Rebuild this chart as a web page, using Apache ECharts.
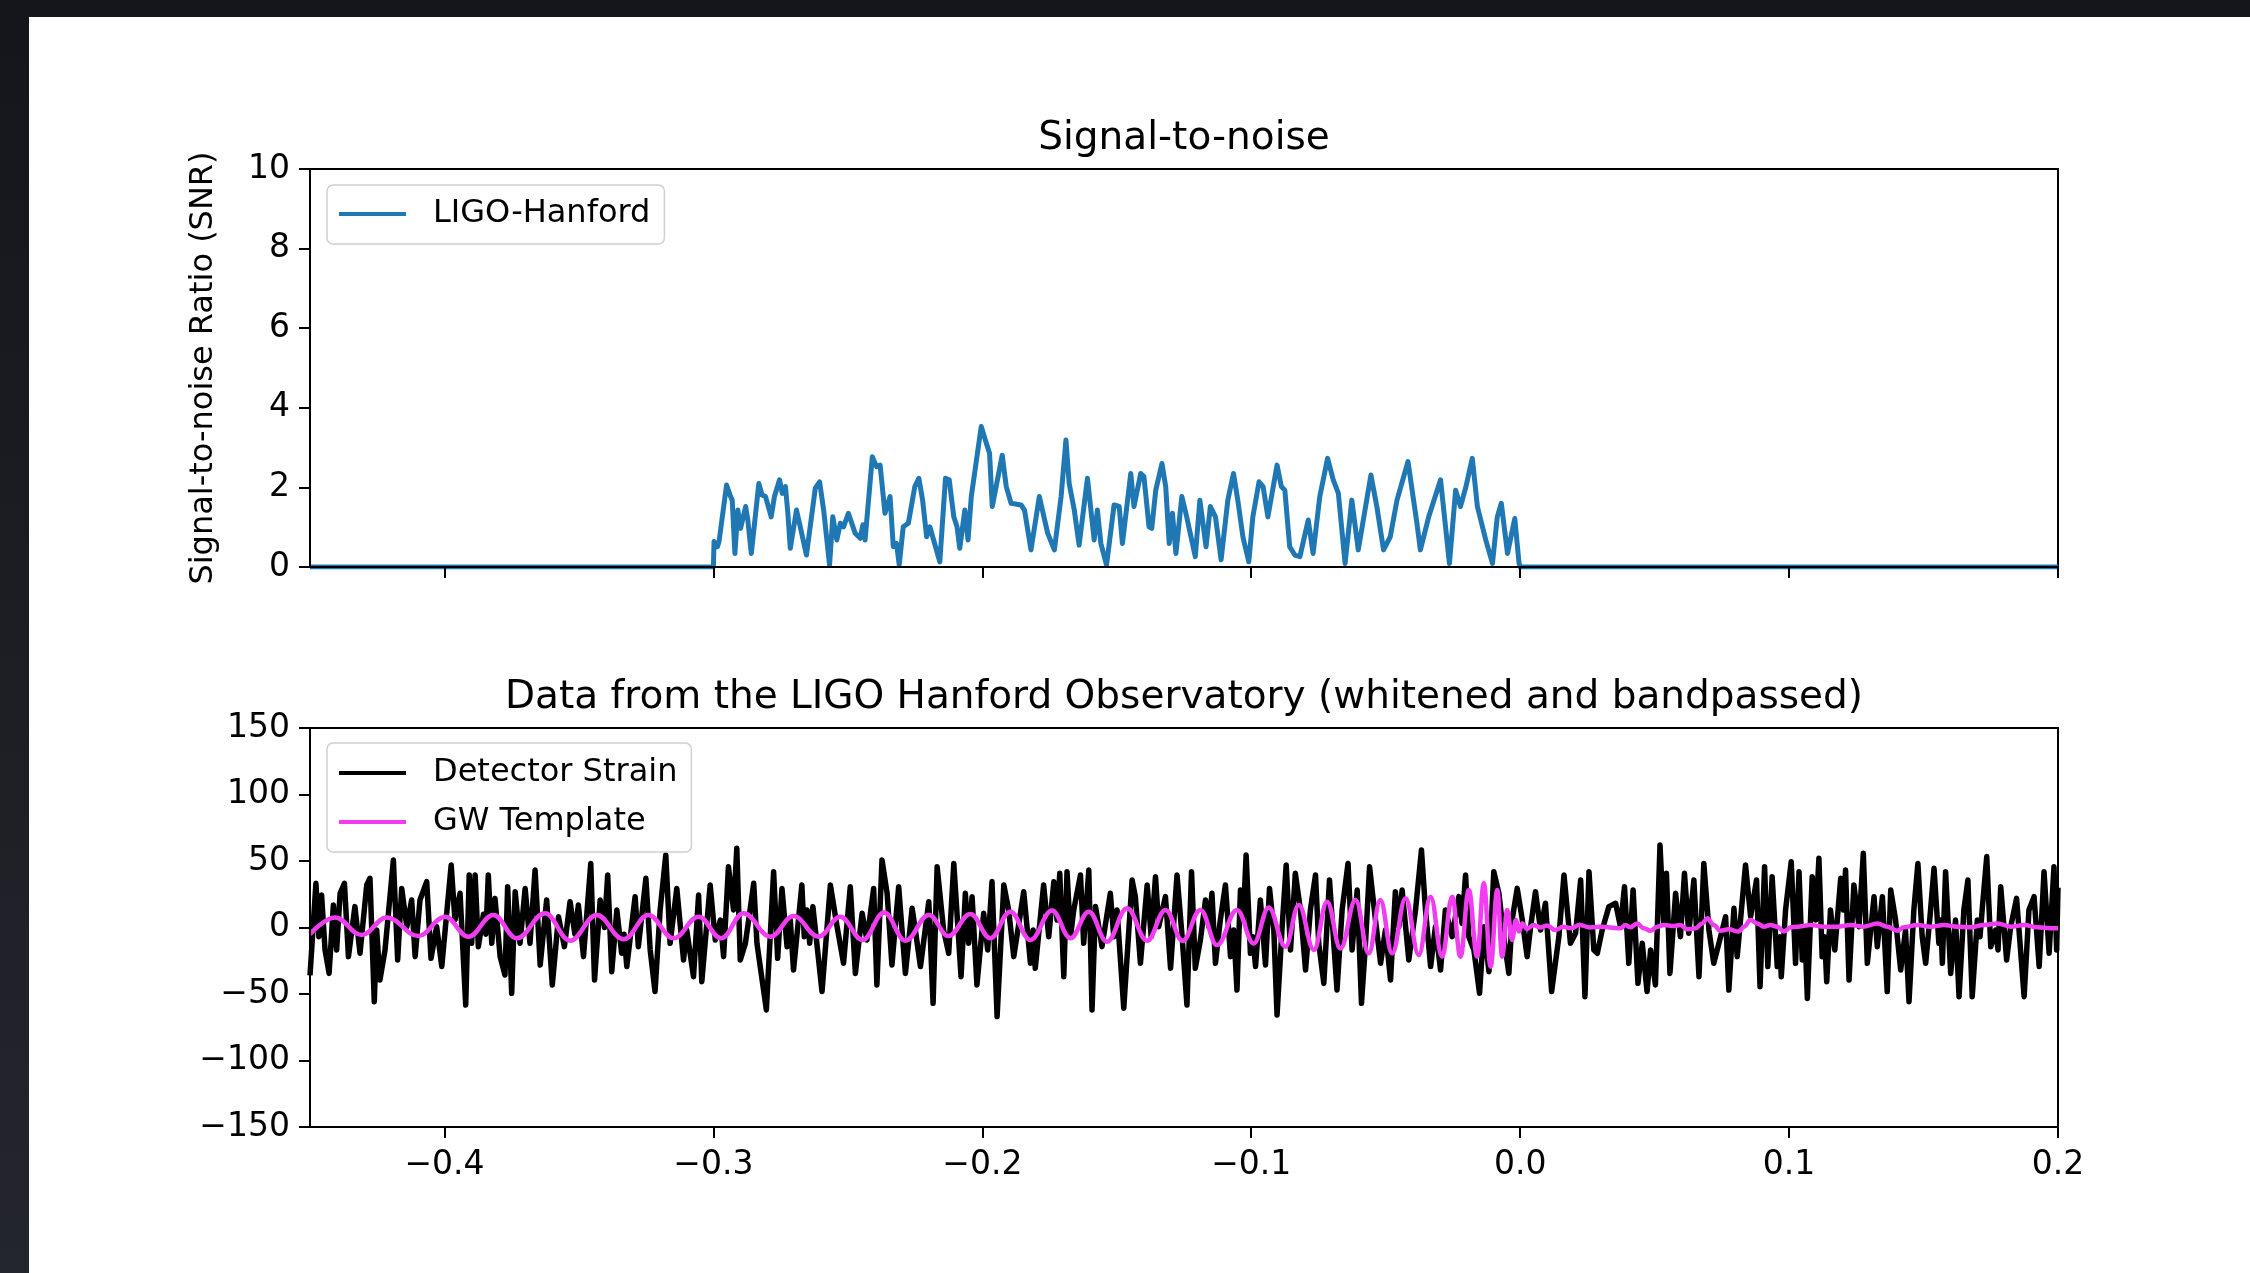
<!DOCTYPE html>
<html>
<head>
<meta charset="utf-8">
<script src="https://cdn.jsdelivr.net/npm/echarts@6/dist/echarts.min.js"></script>
<style>
html,body{margin:0;padding:0;background:#15171c;}
#c{width:2250px;height:1273px;}
</style>
</head>
<body>
<div id="c"></div>
<script>
// ---- data (time in ms, value) ----
const snrData = [[-450,0],[-300,0],[-299.75,0.64],[-298.5,0.51],[-297.9,0.64],[-295.1,2.06],[-293.6,1.77],[-293.0,1.68],[-292.0,0.34],[-290.9,1.43],[-289.9,0.97],[-288.0,1.52],[-287.2,1.18],[-285.9,0.34],[-283.1,2.10],[-281.9,1.81],[-280.6,1.77],[-278.5,1.26],[-277.3,1.77],[-275.4,2.19],[-274.4,1.85],[-273.2,2.02],[-272.3,1.35],[-271.4,0.47],[-269.1,1.43],[-267.7,1.01],[-265.4,0.30],[-262.1,1.98],[-260.5,2.14],[-259.0,1.43],[-256.8,0.05],[-255.6,1.26],[-254.1,0.68],[-252.8,1.10],[-251.6,1.01],[-249.8,1.35],[-247.3,0.85],[-245.4,0.72],[-244.4,1.06],[-243.6,0.68],[-240.9,2.77],[-239.3,2.52],[-238.0,2.56],[-236.2,1.35],[-234.3,1.77],[-233.1,0.51],[-231.9,0.59],[-230.9,0.05],[-229.4,1.01],[-227.5,1.10],[-225.1,2.02],[-223.6,2.23],[-222.2,1.68],[-220.7,0.76],[-219.5,1.01],[-215.8,0.13],[-213.7,2.23],[-212.3,2.19],[-210.6,1.26],[-209.4,1.01],[-208.4,0.47],[-206.5,1.43],[-205.3,0.68],[-204.1,1.77],[-200.4,3.53],[-198.5,3.11],[-197.3,2.86],[-196.3,1.52],[-192.6,2.81],[-191.1,2.02],[-189.3,1.60],[-185.6,1.56],[-184.3,1.43],[-181.9,0.43],[-178.8,1.77],[-175.7,0.85],[-173.2,0.43],[-170.7,1.77],[-168.9,3.19],[-167.7,2.10],[-165.8,1.43],[-164.0,0.55],[-160.9,2.23],[-158.4,0.68],[-157.2,1.43],[-155.9,0.59],[-153.8,0.05],[-151.0,1.56],[-149.1,1.52],[-147.9,0.59],[-144.8,2.35],[-143.6,1.52],[-141.1,2.35],[-139.9,2.27],[-138.0,1.01],[-137.0,0.97],[-135.5,1.93],[-133.2,2.60],[-131.8,2.02],[-130.5,0.59],[-129.3,1.35],[-128.0,0.34],[-125.8,1.77],[-124.3,1.35],[-120.8,0.26],[-119.1,1.68],[-116.8,0.51],[-115.2,1.52],[-113.3,1.26],[-111.2,0.18],[-108.7,1.68],[-106.6,2.35],[-105.0,1.68],[-103.1,0.76],[-100.9,0.13],[-99.4,1.26],[-97.1,2.14],[-95.6,2.02],[-93.8,1.26],[-90.4,2.56],[-88.8,2.02],[-87.5,1.93],[-85.7,0.51],[-83.8,0.30],[-81.9,0.26],[-78.8,1.18],[-77.0,0.34],[-74.5,1.77],[-71.6,2.73],[-69.5,2.19],[-67.6,1.85],[-65.1,0.09],[-62.6,1.68],[-60.2,0.43],[-55.5,2.31],[-53.3,1.52],[-50.8,0.43],[-48.3,0.76],[-45.8,1.68],[-41.7,2.65],[-38.4,1.10],[-37.1,0.43],[-34.0,1.26],[-29.6,2.19],[-26.3,0.09],[-24.0,1.93],[-22.2,1.52],[-20.3,1.98],[-17.8,2.73],[-15.9,1.52],[-12.8,0.68],[-10.3,0.09],[-8.5,1.26],[-7.0,1.60],[-4.7,0.34],[-2.0,1.22],[-0.4,0.09],[0,0],[200,0]];

const strainData = [[-450.0,-36],[-447.8,33.2],[-446.7,-6.9],[-445.7,24.4],[-444.4,-16.9],[-442.9,-34.5],[-441.3,16.9],[-440.1,-16.9],[-438.8,25.7],[-437.2,33.2],[-435.7,-21.9],[-433.3,15.7],[-431.4,-19.4],[-428.9,32.0],[-427.7,37.0],[-426.1,-55.8],[-425.2,-1.9],[-424.0,-39.5],[-422.1,-16.9],[-419.0,50.8],[-417.4,-24.4],[-415.9,29.4],[-414.0,0.6],[-412.2,20.7],[-410.9,-21.9],[-409.1,20.7],[-406.6,34.5],[-405.0,-23.2],[-402.9,0.6],[-401.0,-29.4],[-397.5,47.0],[-396.1,5.6],[-394.2,25.7],[-392.1,-58.3],[-390.8,39.5],[-389.9,-11.9],[-388.6,39.5],[-387.4,-14.4],[-385.5,10],[-384.6,-5],[-383.7,39.5],[-382.4,-11.9],[-381.2,21.9],[-379.3,-21.9],[-377.5,-35.7],[-376.5,30.7],[-375.0,-49.5],[-373.7,26.9],[-371.9,-11.9],[-370.0,29.4],[-368.2,-11.9],[-366.3,43.2],[-364.4,-28.2],[-362.0,20.7],[-359.9,-43.2],[-357.6,8.1],[-355.4,-14.4],[-353.3,19.4],[-351.5,-5],[-350.2,16.9],[-348.3,-21.9],[-345.6,48.2],[-344.2,-39.5],[-342.1,20.7],[-340.5,0],[-339.3,39.5],[-337.8,-33.2],[-335.9,13.2],[-334.1,-19.4],[-333.2,-5],[-332.2,-29.4],[-329.1,23.2],[-327.9,-14.4],[-325.1,37.0],[-323.5,-16.9],[-321.7,-48.2],[-319.8,13.2],[-317.7,54.5],[-316.1,-11.9],[-313.6,29.4],[-311.1,-24.4],[-309.9,-1.9],[-307.4,-37.0],[-305.5,24.4],[-304.3,-40.7],[-301.2,32.0],[-299.3,-9.4],[-297.4,5.6],[-296.2,-21.9],[-294.4,45.7],[-292.5,13.2],[-291.3,59.5],[-290.0,-24.4],[-288.1,-11.9],[-285.0,33.2],[-283.8,-11.9],[-280.3,-62.0],[-277.6,42.0],[-276.1,-23.2],[-274.5,29.4],[-272.6,-14.4],[-271.4,5.6],[-270.2,-32.0],[-267.1,32.0],[-266.2,-6.9],[-265.2,13.2],[-264.2,-11.9],[-263.0,15.7],[-259.6,-48.2],[-256.5,32.0],[-254.0,0.6],[-251.6,-26.9],[-249.1,30.7],[-247.2,-34.5],[-244.7,10.7],[-242.9,-9.4],[-240.4,29.4],[-239.2,-43.2],[-237.3,50.8],[-235.4,25.7],[-233.6,-28.2],[-231.1,30.7],[-228.6,-34.5],[-226.1,14.4],[-224.9,-1.9],[-223.0,-29.4],[-219.9,19.4],[-218.3,-57.0],[-216.8,45.7],[-214.4,-1.9],[-212.5,-19.4],[-210.6,48.2],[-207.9,-37.0],[-206.3,25.7],[-205.1,-11.9],[-203.8,23.2],[-202.0,-43.2],[-199.5,10.7],[-198.0,-16.9],[-196.4,34.5],[-194.5,-67.0],[-192.0,32.0],[-190.2,13.2],[-188.3,-21.9],[-184.6,26.9],[-182.1,-26.9],[-181.1,-1.9],[-180.3,-30.7],[-177.2,32.0],[-175.3,-6.9],[-173.4,34.5],[-172.2,5.6],[-171.2,40.7],[-169.7,-37.0],[-168.5,42.0],[-167.2,-6.9],[-166.0,13.2],[-163.5,39.5],[-162.3,-11.9],[-160.4,43.2],[-159.2,-62.0],[-157.9,15.7],[-155.5,-14.4],[-152.4,25.7],[-151.1,-6.9],[-149.9,13.2],[-147.4,-60.8],[-144.3,35.7],[-143.1,23.2],[-141.2,-26.9],[-138.7,32.0],[-137.2,-6.9],[-135.6,38.2],[-134.4,0.6],[-131.9,23.2],[-130.0,-30.7],[-127.6,39.5],[-125.7,-6.9],[-123.9,-58.3],[-122.2,42.0],[-120.8,-30.7],[-118.9,-9.4],[-117.0,20.7],[-115.8,0.6],[-114.6,25.7],[-113.3,-26.9],[-111.5,5.6],[-109.6,32.0],[-107.7,-21.9],[-106.5,-1.9],[-105.3,-47.0],[-104.0,28.2],[-103.0,5.6],[-101.9,54.5],[-100.3,-19.4],[-99.4,-6.9],[-98.4,-29.4],[-96.6,20.7],[-94.7,-28.2],[-93.2,29.4],[-91.6,-1.9],[-90.4,-65.8],[-88.5,0.6],[-87.0,47.0],[-85.4,-16.9],[-83.6,40.7],[-81.7,13.2],[-79.8,-32.0],[-78.0,13.2],[-76.1,39.5],[-74.9,-11.9],[-73.0,-42.0],[-70.9,35.7],[-69.3,-11.9],[-68.1,-47.0],[-66.2,13.2],[-64.0,48.2],[-62.5,-16.9],[-60.6,28.2],[-59.0,-57.0],[-57.5,-11.9],[-56.0,45.7],[-53.8,5.6],[-51.9,-26.9],[-50.1,-1.9],[-48.2,-39.5],[-46.4,26.9],[-45.1,0.6],[-43.9,28.2],[-41.4,-24.4],[-38.9,13.2],[-36.7,58.3],[-35.2,13.2],[-33.3,-29.4],[-31.5,0.6],[-29.6,-32.0],[-27.8,13.2],[-25.3,-6.9],[-22.8,23.2],[-21.6,3.1],[-20.3,39.5],[-19.1,-6.9],[-17.2,-16.9],[-15.1,-49.5],[-13.5,0.6],[-11.6,-33.2],[-9.8,42.0],[-7.9,25.7],[-6.1,-6.9],[-4.2,-34.5],[-3.0,5.6],[-1.1,29.4],[0.8,5.6],[2.6,-21.9],[3.9,0.6],[5.7,26.9],[7.6,-1.9],[9.4,18.2],[11.7,-48.2],[14.4,-6.9],[16.3,39.5],[18.7,-11.9],[20.6,-4.4],[22.5,35.7],[24.1,-52.0],[25.6,42.0],[27.4,-16.9],[28.7,-19.4],[30.5,-1.9],[33.0,15.7],[35.5,18.2],[37.3,0.6],[38.8,30.7],[40.4,-26.9],[42.0,28.2],[43.8,-42.0],[45.4,-11.9],[47.2,-48.2],[48.5,-16.9],[50.3,-43.2],[52.0,62.0],[53.4,3.1],[54.4,40.7],[55.7,-34.5],[57.8,25.7],[59.6,-6.9],[61.1,40.7],[62.7,-4.4],[64.6,35.7],[66.5,-37.0],[68.3,48.2],[70.2,-1.9],[72.0,-26.9],[73.9,-11.9],[76.4,8.1],[77.6,-47.0],[79.5,14.4],[80.7,-21.9],[83.8,47.0],[85.7,8.1],[87.9,35.7],[89.2,-44.5],[90.9,45.7],[92.1,-29.4],[93.7,38.2],[95.6,-29.4],[96.5,-6.9],[97.1,-37.0],[98.7,13.2],[100.8,49.5],[102.4,-26.9],[103.7,42.0],[104.9,-24.4],[105.8,0.6],[106.8,-53.3],[108.6,38.2],[109.9,5.6],[111.1,52.0],[112.3,-21.9],[113.2,-6.9],[114.0,-40.7],[115.4,13.2],[117.0,-16.9],[119.2,37.0],[120.2,13.2],[121.0,43.2],[122.3,-39.5],[124.1,32.0],[126.0,0.6],[127.6,55.8],[129.1,-26.9],[131.6,23.2],[132.8,-14.4],[134.7,23.2],[136.5,-48.2],[137.8,28.2],[139.6,5.6],[141.5,-32.0],[143.3,-1.9],[144.6,-55.8],[146.4,13.2],[147.9,48.2],[149.5,-6.9],[150.8,-26.9],[152.4,8.1],[153.9,44.5],[155.7,-11.9],[156.4,5.6],[157.0,-26.9],[158.2,42.0],[160.1,-34.5],[161.9,5.6],[163.2,-52.0],[165.0,13.2],[166.5,35.7],[168.1,-52.0],[170.0,5.6],[171.0,-6.9],[171.9,15.7],[173.5,53.3],[175.0,-14.4],[176.8,-1.9],[177.7,-16.9],[178.7,30.7],[180.9,-24.4],[182.4,0.6],[184.6,21.9],[187.4,-52.0],[189.2,13.2],[191.1,23.2],[193.0,-29.4],[194.8,42.0],[196.7,-19.4],[198.5,45.7],[199.5,-16.9],[200.0,30]];

const templateData = [[-450.0,-5],[-440.7,7.6],[-430.8,-5.6],[-421.5,7.6],[-409.7,-6.4],[-399.8,8.1],[-391.1,-6.9],[-381.8,9.4],[-373.1,-8.1],[-362.6,10.7],[-353.3,-9.9],[-343.4,9.4],[-333.4,-8.9],[-324.2,9.4],[-314.8,-8.1],[-305.5,8.1],[-297.1,-8.1],[-288.8,10.7],[-278.8,-6.9],[-270.2,8.6],[-260.9,-6.9],[-252.8,8.1],[-244.5,-9.4],[-236.5,11.2],[-228.6,-9.9],[-219.9,9.4],[-212.6,-6.4],[-204.4,10.2],[-197.0,-8.1],[-189.6,11.9],[-182.1,-9.4],[-174.1,12.7],[-167.2,-8.1],[-160.4,11.9],[-153.6,-10.7],[-146.2,14.4],[-138.7,-9.9],[-131.9,13.2],[-125.5,-10],[-118.9,13.2],[-112.7,-13.2],[-105.3,13.2],[-99.1,-12.0],[-93.5,15],[-87.3,-14.4],[-82.3,16.9],[-76.7,-16.9],[-71.8,19.4],[-66.8,-15.7],[-61.2,20.7],[-56.3,-19.4],[-52.0,20.7],[-47.6,-19.4],[-42.6,21.9],[-37.7,-20.7],[-33.3,23.2],[-29.0,-21.9],[-25.3,23.2],[-22.2,-21.9],[-19.1,28.2],[-16.0,-21.9],[-13.5,33.2],[-11.0,-29.4],[-8.5,28.2],[-6.7,-21.9],[-4.8,13.2],[-3.0,-9.4],[-1.6,5.6],[-0.4,-3.1],[0.8,3.1],[2.5,-1],[5.0,1.9],[7.5,0],[10,1.5],[13,-1.9],[16,0.5],[19,-0.5],[22,1.9],[26,0],[30,0.6],[33.5,0],[37.3,-0.6],[39.2,1.9],[41.0,0.1],[43.5,3.1],[46.0,-0.6],[48.5,-2.4],[51.0,0.6],[53.4,1.9],[57.2,1.1],[59.6,1.9],[62.1,-1.4],[65.2,-0.6],[67.7,3.1],[69.6,6.9],[72.0,1.9],[74.5,-2.4],[77.6,-1.4],[81.3,-3.1],[83.2,0.6],[85.7,5.6],[88.2,3.1],[90.6,0.6],[93.1,1.9],[95.6,0.6],[98.1,-3.1],[100.6,0.1],[103.0,0.6],[108.0,1.9],[113.0,0.6],[117.9,0.6],[122.9,1.9],[127.8,0.6],[132.8,3.1],[136.5,0.6],[140.2,-2.4],[142.7,0.1],[147.7,1.9],[152.6,0.6],[157.6,1.9],[162.6,0.6],[167.5,0.1],[172.5,1.9],[177.4,3.1],[182.4,0.6],[187.4,1.9],[192.3,0.1],[197.3,-0.6],[200,-0.6]];

const xTicks = [-0.4, -0.3, -0.2, -0.1, 0.0, 0.1, 0.2];
const xTickLabels = ['\u22120.4', '\u22120.3', '\u22120.2', '\u22120.1', '0.0', '0.1', '0.2'];
const titles = ['Signal-to-noise', 'Data from the LIGO Hanford Observatory (whitened and bandpassed)'];
const seriesNames = ['LIGO-Hanford', 'Detector Strain', 'GW Template'];
const yLabel = 'Signal-to-noise Ratio (SNR)';

// ---- build ----
const toSec = arr => arr.map(p => [p[0] / 1000, p[1]]);
const FONT = 'DejaVu Sans';
const minusFmt = v => (v < 0 ? '\u2212' + Math.abs(v) : String(v));
const xFmt = v => { const i = xTicks.findIndex(t => Math.abs(t - v) < 1e-9); return i >= 0 ? xTickLabels[i] : ''; };

function xAxisCfg(gi, showLabels) {
  return {
    type: 'value', gridIndex: gi, min: -0.45, max: 0.2, z: 5,
    axisLine: { show: true, onZero: false, lineStyle: { color: '#000', width: 2 } },
    axisTick: { show: true, customValues: xTicks, length: 11, inside: false, lineStyle: { color: '#000', width: 2 } },
    axisLabel: { show: showLabels, customValues: xTicks, formatter: xFmt, margin: 22, color: '#000', fontSize: 33, fontFamily: FONT },
    splitLine: { show: false }
  };
}
function yAxisCfg(gi, min, max, interval, name) {
  return {
    type: 'value', gridIndex: gi, min: min, max: max, interval: interval, z: 5,
    name: name || '', nameLocation: 'middle', nameGap: 90, nameRotate: 90,
    nameTextStyle: { color: '#000', fontSize: 32, fontFamily: FONT },
    axisLine: { show: true, onZero: false, lineStyle: { color: '#000', width: 2 } },
    axisTick: { show: true, length: 11, inside: false, lineStyle: { color: '#000', width: 2 } },
    axisLabel: { formatter: minusFmt, margin: 20, color: '#000', fontSize: 33, fontFamily: FONT, lineHeight: 33, padding: [8, 0, 0, 0] },
    splitLine: { show: false }
  };
}
const legendCommon = {
  icon: 'rect', itemWidth: 67, itemHeight: 4, selectedMode: false,
  backgroundColor: 'rgba(255,255,255,0.85)', borderColor: '#d0d0d0', borderWidth: 1.5, borderRadius: 6,
  textStyle: { color: '#000', fontSize: 32, fontFamily: FONT, lineHeight: 36, padding: [0, 0, 0, 22] }
};

const option = {
  animation: false,
  backgroundColor: { type: 'linear', x: 0, y: 0, x2: 0, y2: 1, colorStops: [{ offset: 0, color: '#14161b' }, { offset: 1, color: '#24262d' }] },
  graphic: [{ type: 'rect', left: 29, top: 17, shape: { width: 2221, height: 1256 }, style: { fill: '#ffffff' }, z: -10, silent: true }],
  title: [
    { text: titles[0], left: 1184, textAlign: 'center', top: 117, padding: 0, textStyle: { color: '#000', fontSize: 39, fontWeight: 'normal', fontFamily: FONT, lineHeight: 44 } },
    { text: titles[1], left: 1184, textAlign: 'center', top: 676, padding: 0, textStyle: { color: '#000', fontSize: 39, fontWeight: 'normal', fontFamily: FONT, lineHeight: 44 } }
  ],
  grid: [
    { left: 310, top: 169, width: 1748, height: 398, show: true, borderColor: '#000', borderWidth: 2, backgroundColor: '#fff' },
    { left: 310, top: 728, width: 1748, height: 399, show: true, borderColor: '#000', borderWidth: 2, backgroundColor: '#fff' }
  ],
  xAxis: [xAxisCfg(0, false), xAxisCfg(1, true)],
  yAxis: [yAxisCfg(0, 0, 10, 2, yLabel), yAxisCfg(1, -150, 150, 50, '')],
  legend: [
    Object.assign({}, legendCommon, { data: [seriesNames[0]], left: 327, top: 185, padding: [11, 14, 12, 12] }),
    Object.assign({}, legendCommon, { data: [seriesNames[1], seriesNames[2]], orient: 'vertical', itemGap: 13, left: 327, top: 743, padding: [12, 14, 12, 12] })
  ],
  series: [
    { type: 'line', name: seriesNames[0], xAxisIndex: 0, yAxisIndex: 0, data: toSec(snrData), symbol: 'none', color: '#1f77b4',
      lineStyle: { color: '#1f77b4', width: 5, join: 'round' }, z: 2 },
    { type: 'line', name: seriesNames[1], xAxisIndex: 1, yAxisIndex: 1, data: toSec(strainData), symbol: 'none', color: '#000000',
      lineStyle: { color: '#000000', width: 5.5, join: 'round' }, z: 2 },
    { type: 'line', name: seriesNames[2], xAxisIndex: 1, yAxisIndex: 1, data: toSec(templateData), symbol: 'none', color: '#f23cf2',
      smooth: 0.4, smoothMonotone: 'x', lineStyle: { color: '#f23cf2', width: 4.5, join: 'round' }, z: 3 }
  ]
};
const chart = echarts.init(document.getElementById('c'), null, { renderer: 'canvas', width: 2250, height: 1273 });
chart.setOption(option);
</script>
</body>
</html>
